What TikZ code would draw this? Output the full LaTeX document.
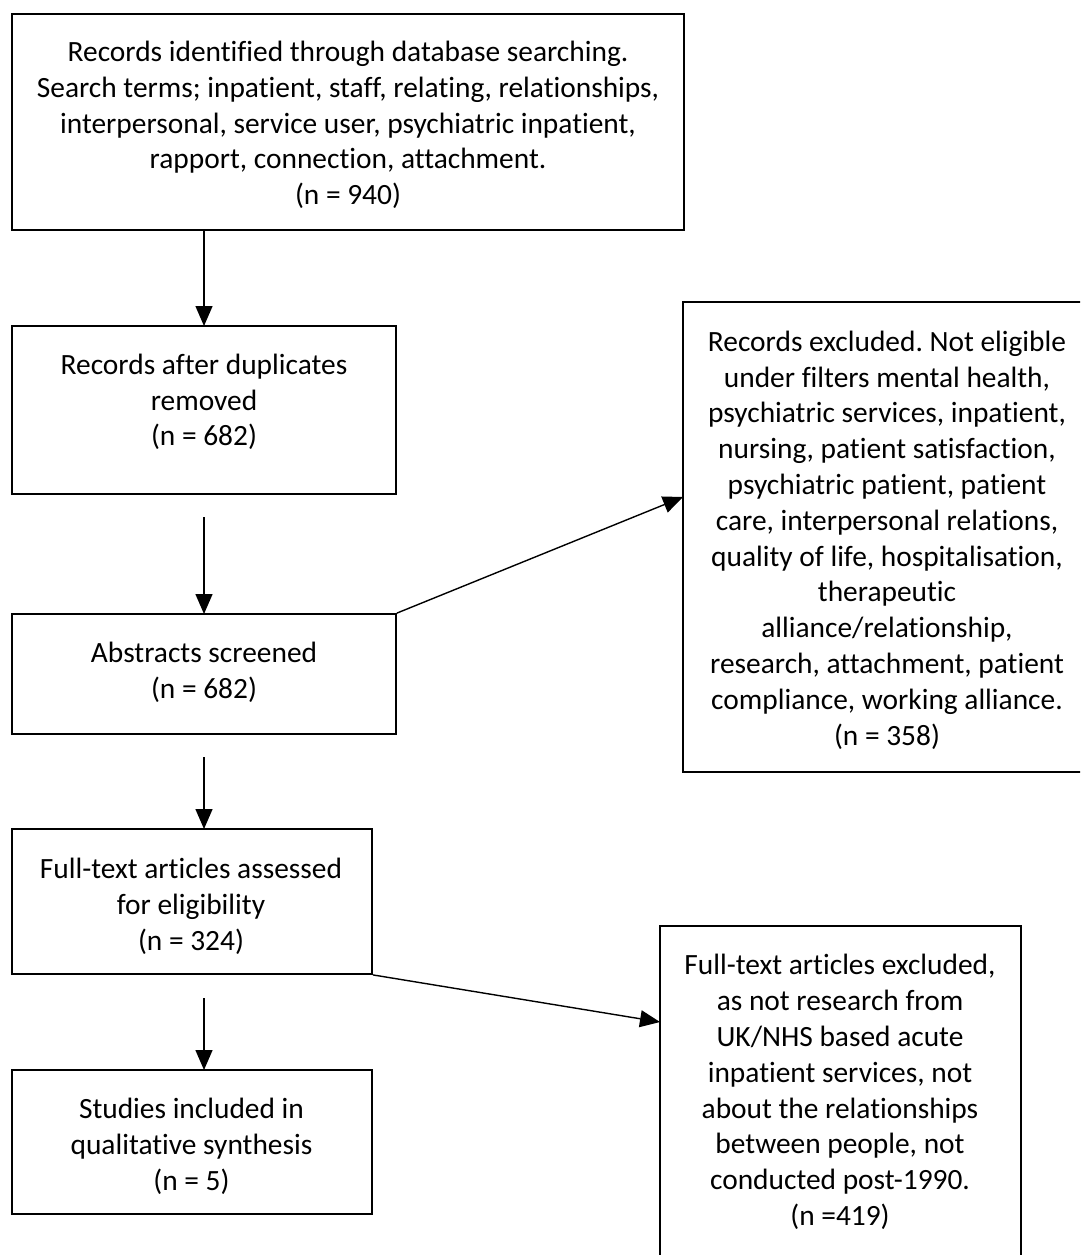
\documentclass[tikz,border=0pt]{standalone}
\usepackage{fontspec}
\setmainfont[Ligatures=CommonOff]{Carlito}
\usetikzlibrary{arrows.meta}
\frenchspacing
\tikzset{
  boxnode/.style={draw=black, line width=1.8pt, rectangle, inner sep=0pt},
  txt/.style={align=center, inner sep=0pt, font=\fontsize{29.4}{35.8}\selectfont},
  arr/.style={line width=1.4pt, -{Triangle[length=20pt,width=17pt]}}
}
\begin{document}
\begin{tikzpicture}[x=1pt,y=-1pt]
\useasboundingbox (0,0) rectangle (1080,1255);
\clip (0,0) rectangle (1080,1255);
% boxes
\node[boxnode, minimum width=672pt, minimum height=216pt] (b1) at (348,122) {};
\node[boxnode, minimum width=384pt, minimum height=168pt] (b2) at (204,410) {};
\node[boxnode, minimum width=384pt, minimum height=120pt] (b3) at (204,674) {};
\node[boxnode, minimum width=408pt, minimum height=470pt] (b4) at (887,537) {};
\node[boxnode, minimum width=360pt, minimum height=145pt] (b5) at (192,901.5) {};
\node[boxnode, minimum width=361pt, minimum height=350pt] (b6) at (840.5,1101) {};
\node[boxnode, minimum width=360pt, minimum height=144pt] (b7) at (192,1142) {};
% texts
\node[txt] (t1) at (348,125) {Records identified through database searching.\\Search terms; inpatient, staff, relating, relationships,\\interpersonal, service user, psychiatric inpatient,\\rapport, connection, attachment.\\(n = 940)};
\node[txt] (t2) at (204,402) {Records after duplicates\\removed\\(n = 682)};
\node[txt] (t3) at (204,672) {Abstracts screened\\(n = 682)};
\node[txt] (t4) at (887,540) {Records excluded. Not eligible\\under filters mental health,\\psychiatric services, inpatient,\\nursing, patient satisfaction,\\psychiatric patient, patient\\care, interpersonal relations,\\quality of life, hospitalisation,\\therapeutic\\alliance/relationship,\\research, attachment, patient\\compliance, working alliance.\\(n = 358)};
\node[txt] (t5) at (191,906.5) {Full-text articles assessed\\for eligibility\\(n = 324)};
\node[txt] (t6) at (840,1092) {Full-text articles excluded,\\as not research from\\UK/NHS based acute\\inpatient services, not\\about the relationships\\between people, not\\conducted post-1990.\\(n =419)};
\node[txt] (t7) at (191.5,1146.5) {Studies included in\\qualitative synthesis\\(n = 5)};
% connector coordinates
\coordinate (a1s) at (204,230);
\coordinate (a1e) at (204,326);
\coordinate (a2s) at (204,517);
\coordinate (a2e) at (204,614);
\coordinate (a3s) at (204,757);
\coordinate (a3e) at (204,829);
\coordinate (a4s) at (204,998);
\coordinate (a4e) at (204,1070);
\coordinate (d1e) at (683,497);
\coordinate (d2e) at (660,1022);
% connectors
\draw[arr] (a1s) -- (a1e);
\draw[arr] (a2s) -- (a2e);
\draw[arr] (a3s) -- (a3e);
\draw[arr] (a4s) -- (a4e);
\draw[arr] (b3.north east) -- (d1e);
\draw[arr] (b5.south east) -- (d2e);
\end{tikzpicture}
\end{document}
